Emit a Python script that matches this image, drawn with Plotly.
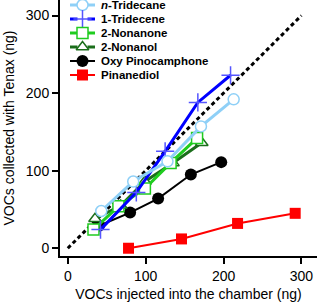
import plotly.graph_objects as go

# Data
ref_x = [0, 300]
ref_y = [0, 300]

tridecane_x = [43, 84, 128, 171, 213]
tridecane_y = [48, 86, 112, 157, 192]

tridecene_x = [42, 88, 125, 167, 209]
tridecene_y = [24, 72, 125, 188, 223]

nonanone_x = [33, 65, 99, 132, 166]
nonanone_y = [24, 54, 77, 110, 142]

nonanol_x = [35, 68, 99, 135, 172]
nonanol_y = [38, 55, 86, 110, 136]

oxy_x = [40, 80, 116, 158, 197]
oxy_y = [29, 46, 64, 95, 111]

pinanediol_x = [78, 146, 218, 292]
pinanediol_y = [0, 12, 32, 45]

x_ticks = [0, 100, 200, 300]
y_ticks = [0, 100, 200, 300]

series_names = ["<i>n</i>-Tridecane", "1-Tridecene", "2-Nonanone", "2-Nonanol",
                "Oxy Pinocamphone", "Pinanediol"]

# styles
styles = {
    "<i>n</i>-Tridecane": dict(line=dict(color="#8fd0f7", width=3),
                               marker=dict(symbol="circle", size=11, color="white",
                                           line=dict(width=1.5, color="#8fd0f7"))),
    "1-Tridecene": dict(line=dict(color="#0000ff", width=3),
                        marker=dict(symbol="cross-thin", size=13, color="#5555ff",
                                    line=dict(width=1.5, color="#5555ff"))),
    "2-Nonanone": dict(line=dict(color="#1fcc1f", width=3),
                       marker=dict(symbol="square", size=11, color="white",
                                   line=dict(width=1.5, color="#1fcc1f"))),
    "2-Nonanol": dict(line=dict(color="#1b6e1b", width=3),
                      marker=dict(symbol="triangle-up", size=11, color="white",
                                  line=dict(width=1.5, color="#1b6e1b"))),
    "Oxy Pinocamphone": dict(line=dict(color="black", width=2),
                             marker=dict(symbol="circle", size=12, color="black")),
    "Pinanediol": dict(line=dict(color="#ff0000", width=2),
                       marker=dict(symbol="square", size=11, color="#ff0000")),
}

data = {
    "<i>n</i>-Tridecane": (tridecane_x, tridecane_y),
    "1-Tridecene": (tridecene_x, tridecene_y),
    "2-Nonanone": (nonanone_x, nonanone_y),
    "2-Nonanol": (nonanol_x, nonanol_y),
    "Oxy Pinocamphone": (oxy_x, oxy_y),
    "Pinanediol": (pinanediol_x, pinanediol_y),
}

fig = go.Figure()

fig.add_trace(go.Scatter(x=ref_x, y=ref_y, mode="lines", showlegend=False,
                         line=dict(color="black", width=3, dash="4px,3px"), hoverinfo="skip"))

for name in reversed(series_names):
    xs, ys = data[name]
    fig.add_trace(go.Scatter(x=xs, y=ys, name=name, mode="lines+markers",
                             showlegend=False, cliponaxis=False, **styles[name]))

# Manual compact legend drawn on an overlay axis measured in plot-area pixels
leg_left, leg_right, leg_text = 10, 35, 39
leg_rows = [5, 19, 33, 47, 61, 75]
for name, ry in zip(series_names, leg_rows):
    st = styles[name]
    mid = (leg_left + leg_right) / 2
    fig.add_trace(go.Scatter(x=[leg_left, mid - 5, None, mid + 5, leg_right], y=[ry] * 5,
                             mode="lines", line=st["line"], xaxis="x2", yaxis="y2",
                             showlegend=False, hoverinfo="skip", cliponaxis=False))
    fig.add_trace(go.Scatter(x=[mid], y=[ry], mode="markers", marker=st["marker"],
                             xaxis="x2", yaxis="y2", showlegend=False, hoverinfo="skip",
                             cliponaxis=False))
    fig.add_annotation(x=leg_text, y=ry, xref="x2", yref="y2", text="<b>%s</b>" % name,
                       showarrow=False, xanchor="left", yanchor="middle",
                       font=dict(family="Liberation Sans, Arial", size=11.5, color="black"))

axis_common = dict(
    showgrid=False, zeroline=False, showline=True, linecolor="black", linewidth=2,
    ticks="outside", ticklen=6, tickwidth=2, tickcolor="black",
    tickfont=dict(family="Liberation Sans, Arial", size=14, color="black"),
    range=[-10, 320], tickmode="array", automargin=False,
)

fig.update_xaxes(**axis_common, tickvals=x_ticks,
                 title=dict(text="VOCs injected into the chamber (ng)",
                            font=dict(family="Liberation Sans, Arial", size=14, color="black"),
                            standoff=6))
fig.update_yaxes(**axis_common, tickvals=y_ticks,
                 title=dict(text="VOCs collected with Tenax (ng)",
                            font=dict(family="Liberation Sans, Arial", size=14, color="black"),
                            standoff=8))

fig.update_layout(
    width=320, height=303,
    margin=dict(l=60, r=3, t=0, b=47, autoexpand=False),
    plot_bgcolor="white", paper_bgcolor="white",
    showlegend=False,
    xaxis2=dict(overlaying="x", anchor="y2", range=[0, 257], visible=False, fixedrange=True),
    yaxis2=dict(overlaying="y", anchor="x2", range=[256, 0], visible=False, fixedrange=True),
)

fig.write_html("out.html",
               config={"displayModeBar": False, "staticPlot": True},
               post_script="document.body.style.margin='0';document.body.style.overflow='hidden';")
